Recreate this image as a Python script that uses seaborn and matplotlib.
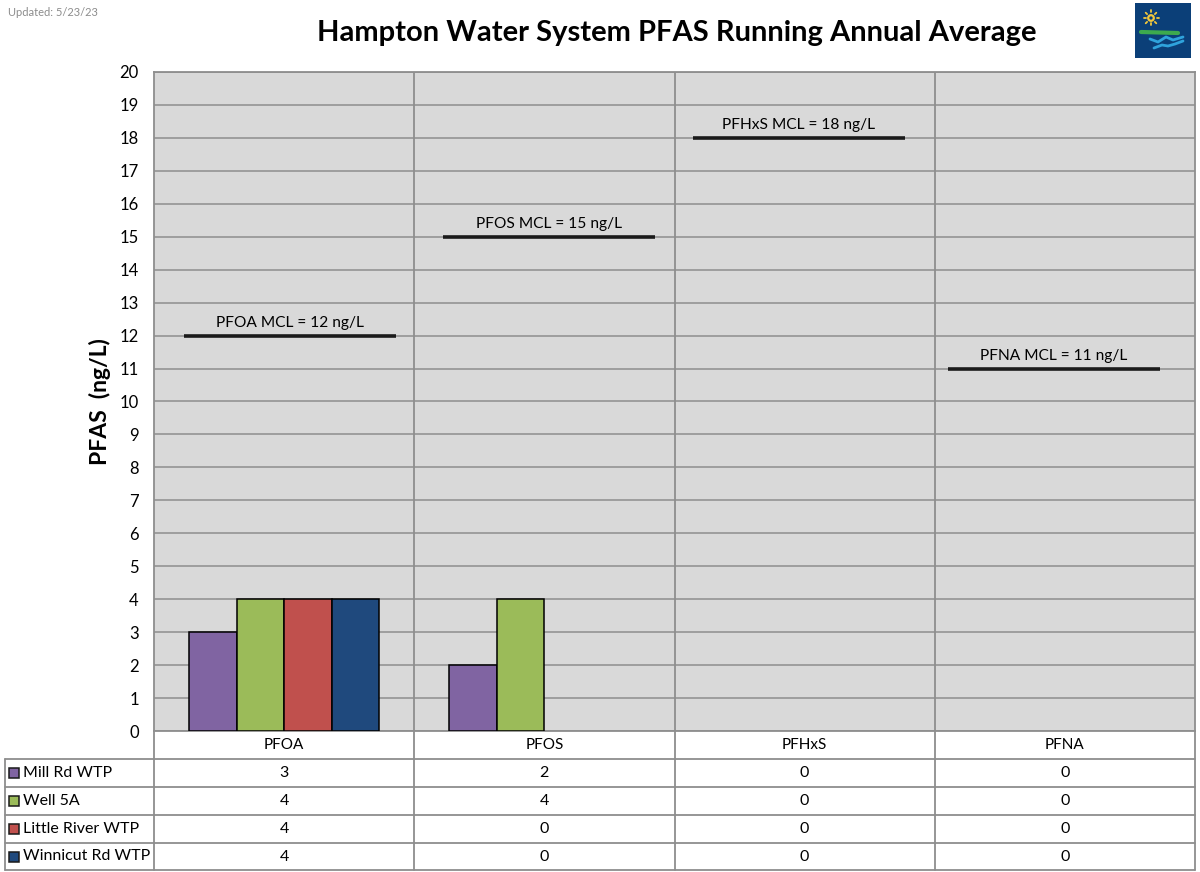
import numpy as np
import pandas as pd
import matplotlib.pyplot as plt
from matplotlib.patches import Rectangle, Circle
import seaborn as sns

compounds = ['PFOA', 'PFOS', 'PFHxS', 'PFNA']
sources = ['Mill Rd WTP', 'Well 5A', 'Little River WTP', 'Winnicut Rd WTP']
colors = ['#8064A2', '#9BBB59', '#C0504D', '#1F497D']
mill_rd = [3, 2, 0, 0]
well_5a = [4, 4, 0, 0]
little_river = [4, 0, 0, 0]
winnicut_rd = [4, 0, 0, 0]
mcl_values = [12, 15, 18, 11]
y_ticks = list(range(0, 21))

W, H = 1200, 872
GRID = '#8E8E8E'
# the limit lines sit a bit off centre in each column
mcl_shift = [0.023, 0.019, -0.023, -0.042]

sns.set_theme(style='white')
plt.rcParams['font.family'] = ['Lato', 'DejaVu Sans']

# long table, zero rows dropped so no empty bars get an outline
series = [mill_rd, well_5a, little_river, winnicut_rd]
rows = []
for name, vals in zip(sources, series):
    for comp, v in zip(compounds, vals):
        rows.append({'compound': comp, 'source': name, 'value': v})
df = pd.DataFrame(rows)
plot_df = df[df['value'] > 0]

def px_axes(fig, left, top, right, bottom):
    return fig.add_axes([left / W, 1 - bottom / H, (right - left) / W, (bottom - top) / H])

fig = plt.figure(figsize=(12, 8.72), dpi=100, facecolor='white')
ax = px_axes(fig, 154, 72, 1195, 731)

sns.barplot(data=plot_df, x='compound', y='value', hue='source', order=compounds,
            hue_order=sources, palette=colors, width=0.73, gap=0, saturation=1,
            edgecolor='black', linewidth=1.1, errorbar=None, legend=False, ax=ax, zorder=3)

ax.set_facecolor('#D9D9D9')
ax.set_xlim(-0.5, 3.5)
ax.set_ylim(0, 20)
ax.set_yticks(y_ticks)
ax.tick_params(axis='y', length=0, pad=11, labelsize=12, labelcolor='black')
ax.tick_params(axis='x', length=0, labelbottom=False)
ax.set_xlabel('')
ax.set_ylabel('PFAS  (ng/L)', fontsize=16.5, fontweight='bold', color='black', labelpad=6)
ax.grid(axis='y', color=GRID, linewidth=1.1, zorder=0)
ax.set_axisbelow(True)
for i in range(1, 4):
    ax.axvline(i - 0.5, color=GRID, linewidth=1.3, zorder=1)
for s in ax.spines.values():
    s.set_color(GRID)
    s.set_linewidth(1.3)

# MCL limit lines
for i, (comp, mcl, dx) in enumerate(zip(compounds, mcl_values, mcl_shift)):
    ax.hlines(mcl, i + dx - 0.407, i + dx + 0.407, color='#1A1A1A', linewidth=2.6, zorder=4)
    ax.text(i + dx, mcl + 0.17, f'{comp} MCL = {mcl} ng/L', ha='center', va='bottom',
            fontsize=11.2, color='black', zorder=5)

# data table under the axes, in pixel coordinates
tb = px_axes(fig, 0, 731, W, 872)
tb.set_xlim(0, W)
tb.set_ylim(872, 731)
tb.axis('off')
col_edges = [154, 414.25, 674.5, 934.75, 1195]
row_edges = [759, 787, 815, 843, 870]
for x in col_edges:
    tb.plot([x, x], [731, 870], color=GRID, lw=1.3, clip_on=False)
tb.plot([5, 5], [759, 870], color=GRID, lw=1.3)
tb.plot([5, 1195], [759, 759], color=GRID, lw=1.3)
for y in row_edges[1:]:
    tb.plot([5, 1195], [y, y], color=GRID, lw=1.3)
for j, comp in enumerate(compounds):
    tb.text((col_edges[j] + col_edges[j + 1]) / 2, 745, comp, ha='center', va='center',
            fontsize=11, color='black')
for r, (name, vals, c) in enumerate(zip(sources, series, colors)):
    yc = (row_edges[r] + row_edges[r + 1]) / 2
    tb.add_patch(Rectangle((9, yc - 5), 9.5, 10, facecolor=c, edgecolor='#1A1A1A', lw=1.1))
    tb.text(23, yc - 0.5, name, ha='left', va='center', fontsize=11.5, color='black')
    for j, v in enumerate(vals):
        tb.text((col_edges[j] + col_edges[j + 1]) / 2, yc, str(v), ha='center', va='center',
                fontsize=11.5, color='black')

fig.text(677 / W, 1 - 33 / H, 'Hampton Water System PFAS Running Annual Average', ha='center',
         va='center', fontsize=21, fontweight='bold', color='black')
fig.text(8 / W, 1 - 12 / H, 'Updated: 5/23/23', ha='left', va='center', fontsize=8, color='#8C8C8C')

# little logo top right
logo = px_axes(fig, 1135, 3, 1191, 58)
logo.set_xlim(0, 56)
logo.set_ylim(55, 0)
logo.axis('off')
logo.add_patch(Rectangle((0, 0), 56, 55, facecolor='#0B3F78', edgecolor='none'))
logo.add_patch(Circle((16, 15), 2.8, facecolor='#0B3F78', edgecolor='#F2C73C', lw=1.6))
for a in np.arange(0, 2 * np.pi, np.pi / 4):
    logo.plot([16 + 5.5 * np.cos(a), 16 + 7.5 * np.cos(a)],
              [15 + 5.5 * np.sin(a), 15 + 7.5 * np.sin(a)], color='#F2C73C', lw=1.3)
logo.plot([6, 43], [29, 30], color='#3DAA4E', lw=3, solid_capstyle='round')
logo.plot([15, 23, 31, 38, 48], [36, 39, 34, 37, 34], color='#2FA3DC', lw=2)
logo.plot([19, 27, 33, 40, 48], [45, 42, 43, 41, 38], color='#2FA3DC', lw=2)

fig.savefig('out.png', dpi=100)
